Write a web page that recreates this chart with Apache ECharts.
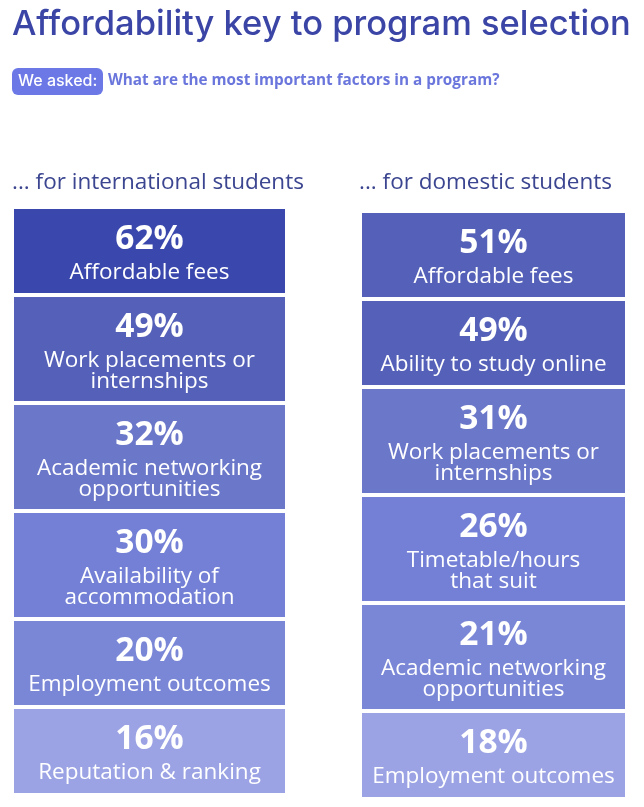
<!DOCTYPE html>
<html>
<head>
    <meta charset="utf-8">
    <title>Affordability key to program selection</title>
    <script src="https://cdn.jsdelivr.net/npm/echarts@6/dist/echarts.min.js"></script>
    <style>
        html, body {margin: 0; padding: 0; background: #ffffff;}
        #main {width: 644px; height: 807px;}
    </style>
</head>
<body>
<div id="main"></div>
<script>
    // data
    var intlLabels = ['Affordable fees', 'Work placements or\ninternships', 'Academic networking\nopportunities',
        'Availability of\naccommodation', 'Employment outcomes', 'Reputation & ranking'];
    var intlValues = [62, 49, 32, 30, 20, 16];
    var domLabels = ['Affordable fees', 'Ability to study online', 'Work placements or\ninternships',
        'Timetable/hours\nthat suit', 'Academic networking\nopportunities', 'Employment outcomes'];
    var domValues = [51, 49, 31, 26, 21, 18];

    var chart = echarts.init(document.getElementById('main'));

    // column boxes: left, width, top
    var cols = [
        {x: 14, w: 271, top: 209, labels: intlLabels},
        {x: 362, w: 263, top: 213, labels: domLabels}
    ];
    var oneLineH = 84, twoLineH = 104, gap = 4;

    function lines(s) { return s.split('\n').length; }

    function makeRender(col) {
        var c = cols[col];
        return function (params, api) {
            var i = params.dataIndex;
            var y = c.top;
            for (var k = 0; k < i; k++) {
                y += (lines(c.labels[k]) > 1 ? twoLineH : oneLineH) + gap;
            }
            var n = lines(c.labels[i]);
            var h = n > 1 ? twoLineH : oneLineH;
            var cx = c.x + c.w / 2, cy = y + h / 2;
            return {
                type: 'group',
                children: [
                    {type: 'rect', shape: {x: c.x, y: y, width: c.w, height: h}, style: {fill: api.visual('color')}},
                    {
                        type: 'text',
                        style: {
                            text: api.value(0) + '%', x: cx, y: cy - 2 - 10 * n,
                            align: 'center', verticalAlign: 'middle',
                            font: 'bold 33.5px "Open Sans"', fill: '#ffffff'
                        }
                    },
                    {
                        type: 'text',
                        style: {
                            text: c.labels[i], x: cx, y: cy + 22, lineHeight: 21,
                            align: 'center', verticalAlign: 'middle',
                            font: '22.5px "Open Sans"', fill: '#ffffff'
                        }
                    }
                ]
            };
        };
    }

    var option = {
        animation: false,
        visualMap: {
            type: 'piecewise',
            show: false,
            dimension: 0,
            seriesIndex: [0, 1],
            pieces: [
                {lt: 19, color: '#9ba3e4'},
                {gte: 19, lt: 25, color: '#7a87d7'},
                {gte: 25, lt: 31, color: '#7380d5'},
                {gte: 31, lt: 40, color: '#6b77c9'},
                {gte: 40, lt: 55, color: '#5561b8'},
                {gte: 55, color: '#3a47ac'}
            ]
        },
        graphic: [
            {
                type: 'text', left: 12, top: 7,
                style: {text: 'Affordability key to program selection', font: '500 34.5px Inter', fill: '#3b45a6'}
            },
            {
                type: 'rect', left: 12, top: 68,
                shape: {width: 91, height: 27, r: 6}, style: {fill: '#6b78e6'}
            },
            {
                type: 'text', left: 18, top: 73,
                style: {text: 'We asked:', font: '500 16px Inter', fill: '#ffffff'}
            },
            {
                type: 'text', left: 108, top: 73,
                style: {text: 'What are the most important factors in a program?', font: 'bold 15.3px "Open Sans"', fill: '#6a76dc'}
            },
            {
                type: 'text', left: 12, top: 171,
                style: {text: '... for international students', font: '22.5px "Open Sans"', fill: '#3b4590'}
            },
            {
                type: 'text', left: 359, top: 171,
                style: {text: '... for domestic students', font: '22.5px "Open Sans"', fill: '#3b4590'}
            }
        ],
        series: [
            {type: 'custom', coordinateSystem: 'none', data: intlValues, renderItem: makeRender(0)},
            {type: 'custom', coordinateSystem: 'none', data: domValues, renderItem: makeRender(1)}
        ]
    };

    chart.setOption(option);
</script>
</body>
</html>
